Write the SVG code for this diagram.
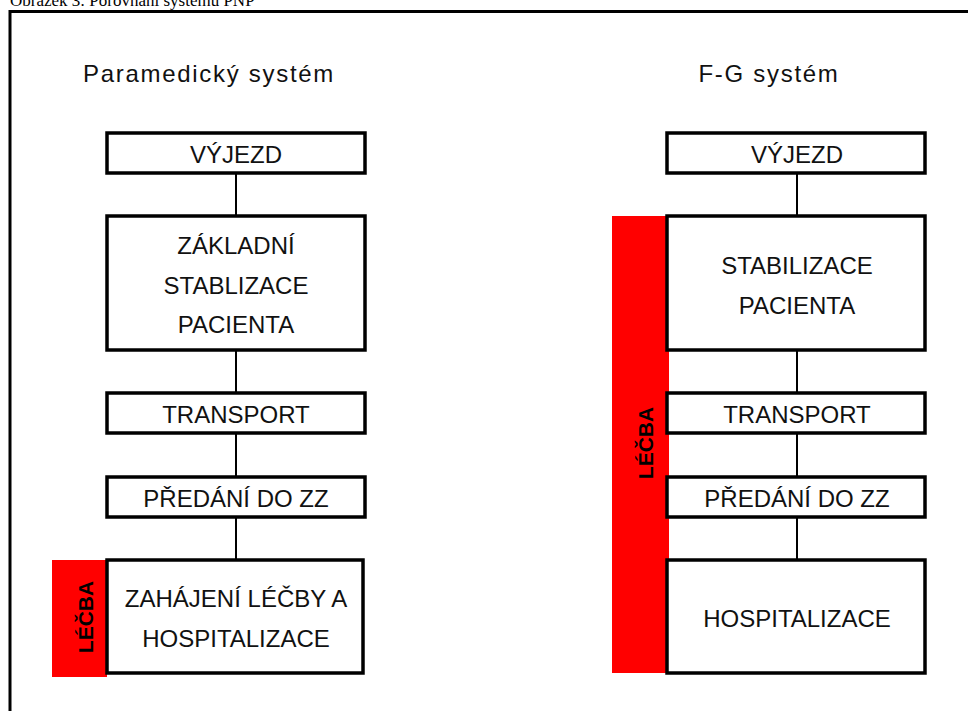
<svg xmlns="http://www.w3.org/2000/svg" width="968" height="711" viewBox="0 0 968 711">
<style>
.box{fill:#fff;stroke:#000;stroke-width:3.5}
.bar{fill:#ff0000}
.t{font-family:"Liberation Sans",Arial,sans-serif;font-size:24px;fill:#111;text-anchor:middle}
.h{font-family:"Liberation Sans",Arial,sans-serif;font-size:24px;letter-spacing:1.7px;fill:#111;text-anchor:middle}
.v{font-family:"Liberation Sans",Arial,sans-serif;font-size:21px;font-weight:bold;fill:#000;text-anchor:middle}
.c{stroke:#000;stroke-width:2;fill:none}
</style>
<rect width="968" height="711" fill="#fff"/>
<text x="10" y="6" font-family="Liberation Serif,Times New Roman,serif" font-size="17" fill="#000">Obrázek 3: Porovnání systému PNP</text>
<path d="M10 711V11.5H968" fill="none" stroke="#000" stroke-width="3"/>
<text class="h" x="209" y="82">Paramedický systém</text>
<text class="h" x="769" y="82">F-G systém</text>
<g id="connectors">
<line class="c" x1="236" y1="173" x2="236" y2="216"/>
<line class="c" x1="236" y1="350" x2="236" y2="393"/>
<line class="c" x1="236" y1="433" x2="236" y2="477"/>
<line class="c" x1="236" y1="517" x2="236" y2="560"/>
<line class="c" x1="797" y1="173" x2="797" y2="216"/>
<line class="c" x1="797" y1="350" x2="797" y2="393"/>
<line class="c" x1="797" y1="433" x2="797" y2="477"/>
<line class="c" x1="797" y1="517" x2="797" y2="560"/>
</g>
<g id="lecba-left">
<rect class="bar" x="52" y="560" width="55" height="117"/>
<text class="v" transform="translate(93 617) rotate(-90)">LÉČBA</text>
</g>
<g id="lecba-right">
<rect class="bar" x="612" y="216" width="57" height="457"/>
<text class="v" transform="translate(653 443) rotate(-90)">LÉČBA</text>
</g>
<g id="p-vyjezd"><rect class="box" x="107" y="133" width="258" height="40"/><text class="t" x="236" y="163">VÝJEZD</text></g>
<g id="p-stab"><rect class="box" x="107" y="216" width="258" height="134"/><text class="t" x="236" y="254">ZÁKLADNÍ</text><text class="t" x="236" y="294">STABLIZACE</text><text class="t" x="236" y="333">PACIENTA</text></g>
<g id="p-transport"><rect class="box" x="107" y="393" width="258" height="40"/><text class="t" x="236" y="423">TRANSPORT</text></g>
<g id="p-predani"><rect class="box" x="107" y="477" width="258" height="40"/><text class="t" x="236" y="507">PŘEDÁNÍ DO ZZ</text></g>
<g id="p-hosp"><rect class="box" x="107" y="560" width="256" height="113"/><text class="t" x="236" y="607">ZAHÁJENÍ LÉČBY A</text><text class="t" x="236" y="647">HOSPITALIZACE</text></g>
<g id="f-vyjezd"><rect class="box" x="667" y="133" width="258" height="40"/><text class="t" x="797" y="163">VÝJEZD</text></g>
<g id="f-stab"><rect class="box" x="667" y="216" width="258" height="134"/><text class="t" x="797" y="274">STABILIZACE</text><text class="t" x="797" y="314">PACIENTA</text></g>
<g id="f-transport"><rect class="box" x="667" y="393" width="258" height="40"/><text class="t" x="797" y="423">TRANSPORT</text></g>
<g id="f-predani"><rect class="box" x="667" y="477" width="258" height="40"/><text class="t" x="797" y="507">PŘEDÁNÍ DO ZZ</text></g>
<g id="f-hosp"><rect class="box" x="667" y="560" width="258" height="113"/><text class="t" x="797" y="627">HOSPITALIZACE</text></g>
</svg>
